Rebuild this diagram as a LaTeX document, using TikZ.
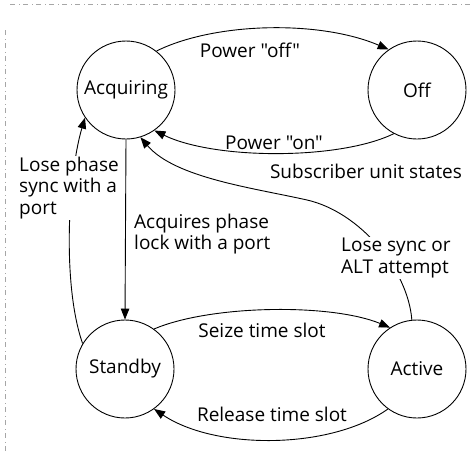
\documentclass[tikz,border=0pt]{standalone}
\usepackage{fontspec}
\setmainfont{Open Sans}[Ligatures=TeXOff]
\usetikzlibrary{arrows.meta}
\begin{document}
\begin{tikzpicture}[x=1pt,y=-1pt,
  every node/.style={font=\fontsize{19}{21.5}\selectfont},
  state/.style={draw,circle,line width=0.9pt,minimum size=98pt,inner sep=0pt},
  lbl/.style={align=left,inner sep=1pt},
  wlbl/.style={align=left,inner sep=1pt,fill=white},
  arr/.style={line width=0.9pt,-{Triangle[length=11pt,width=8.5pt]}},
  scan/.style={gray!70,line width=0.6pt,dash pattern=on 5pt off 4pt on 1pt off 3pt}]
\useasboundingbox (0,0) rectangle (474,451);
% scan border
\draw[scan] (10,4) -- (474,4);
\draw[scan] (5,30) -- (5,451);
% states
\node[state] (acq) at (126,90) {Acquiring};
\node[state] (off) at (417,90) {Off};
\node[state] (stb) at (125,369) {Standby};
\node[state] (act) at (417,369) {Active};
% connectors
\draw[arr] (acq.52) .. controls (215,22) and (320,20) .. (off.125);
\draw[arr] (off.242) .. controls (340,160) and (215,160) .. (acq.305);
\draw[arr] (stb.54) .. controls (210,305) and (330,303) .. (act.123);
\draw[arr] (act.234) .. controls (330,450) and (215,450) .. (stb.306);
\draw[arr] (acq.270) -- (stb.90);
\draw[arr] (stb.149) .. controls (62,285) and (68,175) .. (acq.214);
\coordinate (m) at (307,200);
\draw[arr] (act.96) .. controls (408,270) and (360,212) .. (m)
  .. controls (254,188) and (175,178) .. (acq.287);
% labels
\node[lbl] (lpoff) at (250,50) {Power "off"};
\node[lbl] (lpon) at (274,143) {Power "on"};
\node[lbl] (lsub) at (366,171) {Subscriber unit states};
\node[wlbl,anchor=west] (llps) at (18,188) {Lose phase\\sync with a\\port};
\node[lbl,anchor=west] (lacq) at (133,234) {Acquires phase\\lock with a port};
\node[wlbl,anchor=west] (lls) at (340,258) {Lose sync or\\ALT attempt};
\node[lbl] (lseize) at (262,330) {Seize time slot};
\node[lbl] (lrel) at (272,414) {Release time slot};
\end{tikzpicture}
\end{document}
